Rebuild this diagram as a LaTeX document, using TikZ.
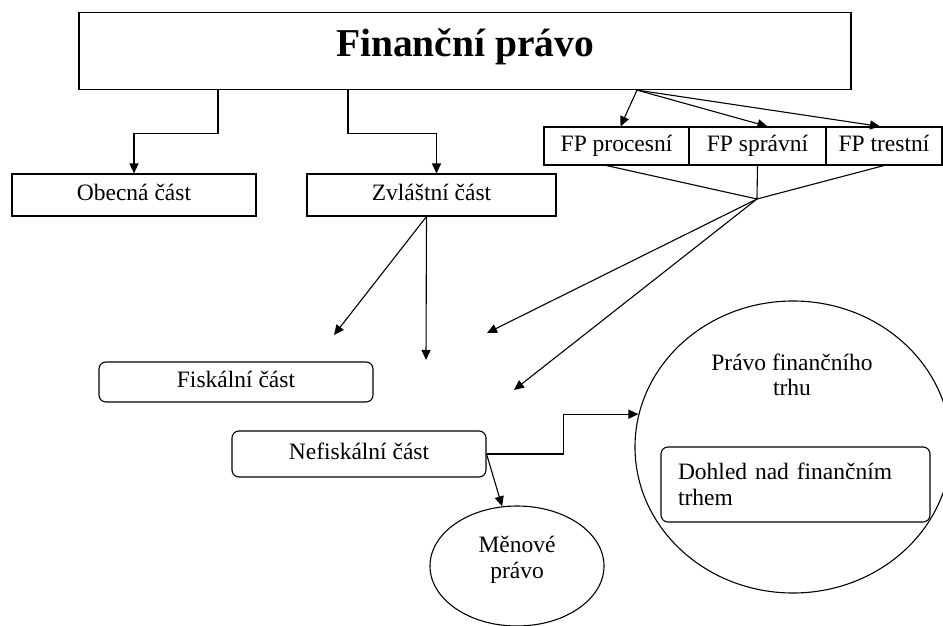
\documentclass[tikz,border=0pt]{standalone}
\usepackage{fontspec}
\setmainfont{Liberation Serif}
\usetikzlibrary{arrows.meta,shapes.geometric}

\begin{document}
\begin{tikzpicture}[x=1pt,y=1pt,line width=1.1pt,
  every node/.style={font=\fontsize{23.5}{25.5}\selectfont},
  box/.style={draw,rectangle,inner sep=0pt,minimum height=42pt,text height=16pt,text depth=5pt},
  soft/.style={box,rounded corners=7pt},
  oval/.style={draw,ellipse,inner sep=0pt,align=center},
  arr/.style={-{Triangle[length=10pt,width=9pt]}}]
\useasboundingbox (0,0) rectangle (943,-626);
\node[box,font=\bfseries\fontsize{39.5}{44}\selectfont,text height=44pt,text depth=33pt,minimum width=772pt,anchor=north] (fp) at (465,-12) {Finanční právo};
\node[box,minimum width=244pt] (obec) at (134,-195) {Obecná část};
\node[box,minimum width=249pt] (zvl) at (431.5,-195) {Zvláštní část};
\node[box,minimum width=145pt,minimum height=38pt] (fpproc) at (616.5,-146) {FP procesní};
\node[box,minimum width=137pt,minimum height=38pt] (fpspr) at (757.5,-146) {FP správní};
\node[box,minimum width=116pt,minimum height=38pt] (fptr) at (884,-146) {FP trestní};
\node[soft,minimum width=274pt,minimum height=40pt] (fisk) at (236,-382) {Fiskální část};
\node[soft,minimum width=254pt,minimum height=46pt] (nefisk) at (359,-454) {Nefiskální část};
\node[oval,minimum width=174pt,minimum height=120pt] (menove) at (517,-566) {Měnové\\právo\\[-8pt]};
\node[oval,minimum width=316pt,minimum height=292pt] (trh) at (793,-447) {};
\node[align=center] (trhname) at (792,-375) {Právo finančního\\trhu};
\node[draw,rounded corners=7pt,align=left,text width=235pt,inner xsep=17pt,inner ysep=0pt,minimum height=75pt] (dohled) at (795.5,-484.5) {Dohled nad finančním\\trhem};
\coordinate (fork) at ([xshift=172pt]fp.south);
\coordinate (join) at (757,-199);
\coordinate (zvlend1) at (334,-335);
\coordinate (zvlend2) at (426,-360);
\coordinate (joinend1) at (487,-333);
\coordinate (joinend2) at (514,-390);
\draw[arr] ([xshift=-247pt]fp.south) -- ++(0,-43) -| (obec.north);
\draw[arr] ([xshift=-117pt]fp.south) -- ++(0,-43) -| ([xshift=5pt]zvl.north);
\draw[arr] (fork) -- ([xshift=4pt]fpproc.north);
\draw[arr] (fork) -- ([xshift=10pt]fpspr.north);
\draw[arr] (fork) -- ([xshift=-4pt]fptr.north);
\draw ([xshift=-10pt]fpproc.south) -- (join) -- (fptr.south);
\draw (fpspr.south) -- (join);
\draw[arr] (join) -- (joinend1);
\draw[arr] (join) -- (joinend2);
\draw[arr] ([xshift=-5pt]zvl.south) -- (zvlend1);
\draw[arr] ([xshift=-5pt]zvl.south) -- (zvlend2);
\draw[arr] (nefisk.east) -- ++(77,0) |- (trh.168);
\draw[arr] (nefisk.east) -- (menove.104);
\end{tikzpicture}
\end{document}
